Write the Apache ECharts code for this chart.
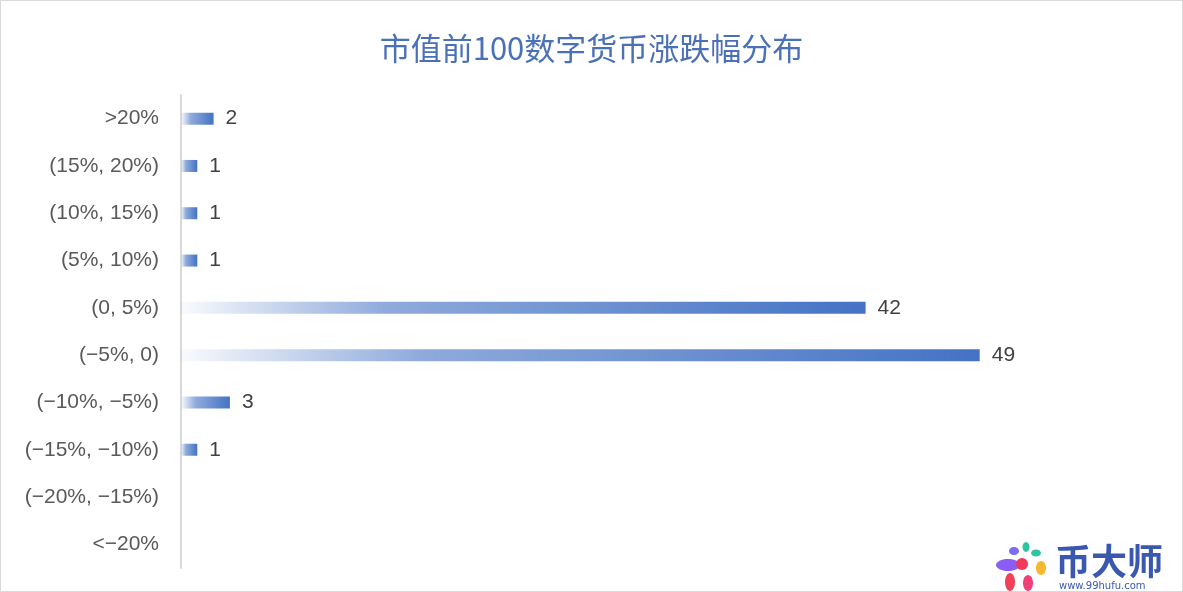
<!DOCTYPE html>
<html><head><meta charset="utf-8">
<script src="https://cdn.jsdelivr.net/npm/echarts@6/dist/echarts.min.js"></script>
<style>
html,body{margin:0;padding:0;background:#fff;}
#c{width:1183px;height:592px;box-sizing:border-box;border:1px solid #d9d9d9;}
</style></head>
<body><div id="c"></div>
<script>
const categories = ['>20%','(15%, 20%)','(10%, 15%)','(5%, 10%)','(0, 5%)','(−5%, 0)','(−10%, −5%)','(−15%, −10%)','(−20%, −15%)','<−20%'];
const counts = [2,1,1,1,42,49,3,1,0,0];
const titleText = '市值前100数字货币涨跌幅分布';

const chart = echarts.init(document.getElementById('c'));
const grad = new echarts.graphic.LinearGradient(0,0,1,0,[
  {offset:0,color:'rgba(68,114,196,0.03)'},
  {offset:0.3,color:'rgba(68,114,196,0.6)'},
  {offset:1,color:'#4472C4'}
]);
chart.setOption({
  animation:false,
  title:{text:titleText,left:'center',top:27,textStyle:{color:'#4a70b8',fontSize:31,fontWeight:'normal',fontFamily:'Noto Sans CJK SC'}},
  grid:{left:180,top:94,width:978,height:473},
  xAxis:{type:'value',min:0,max:60,show:false},
  yAxis:{type:'category',data:categories,inverse:true,
    axisLine:{show:true,lineStyle:{color:'#d9d9d9',width:2}},
    axisTick:{show:false},
    axisLabel:{color:'#595959',fontSize:21,margin:22,fontFamily:'Liberation Sans'}},
  series:[{type:'bar',data:counts,barWidth:12,
    itemStyle:{color:grad},
    label:{show:true,position:'right',distance:12,color:'#404040',fontSize:21,fontFamily:'Liberation Sans',
      formatter:p=>p.value>0?p.value:''}}],
  graphic:[
    {type:'group',left:995,top:541,children:[
      {type:'ellipse',shape:{cx:13,cy:23,rx:12,ry:6},style:{fill:'#8b5cf6'}},
      {type:'ellipse',shape:{cx:19,cy:9,rx:5,ry:4},style:{fill:'#7c6cf0'}},
      {type:'ellipse',shape:{cx:31,cy:5,rx:3.5,ry:5},style:{fill:'#2ec4a0'}},
      {type:'ellipse',shape:{cx:41,cy:11,rx:5,ry:3.5},style:{fill:'#2ec4a0'}},
      {type:'ellipse',shape:{cx:46,cy:26,rx:5,ry:7},style:{fill:'#f5b82e'}},
      {type:'ellipse',shape:{cx:33,cy:41,rx:5,ry:8},style:{fill:'#f04078'}},
      {type:'ellipse',shape:{cx:15,cy:40,rx:5,ry:9},style:{fill:'#f0405a'}},
      {type:'circle',shape:{cx:27,cy:22,r:6},style:{fill:'#f03a5a'}}
    ]},
    {type:'text',left:1054,top:542,style:{text:'币大师',fill:'#3a58b0',fontSize:36,fontWeight:'bold',fontFamily:'Noto Sans CJK SC'}},
    {type:'text',left:1058,top:580,style:{text:'www.99hufu.com',fill:'#3a58b0',fontSize:10,fontFamily:'DejaVu Sans'}}
  ]
});
</script></body></html>
